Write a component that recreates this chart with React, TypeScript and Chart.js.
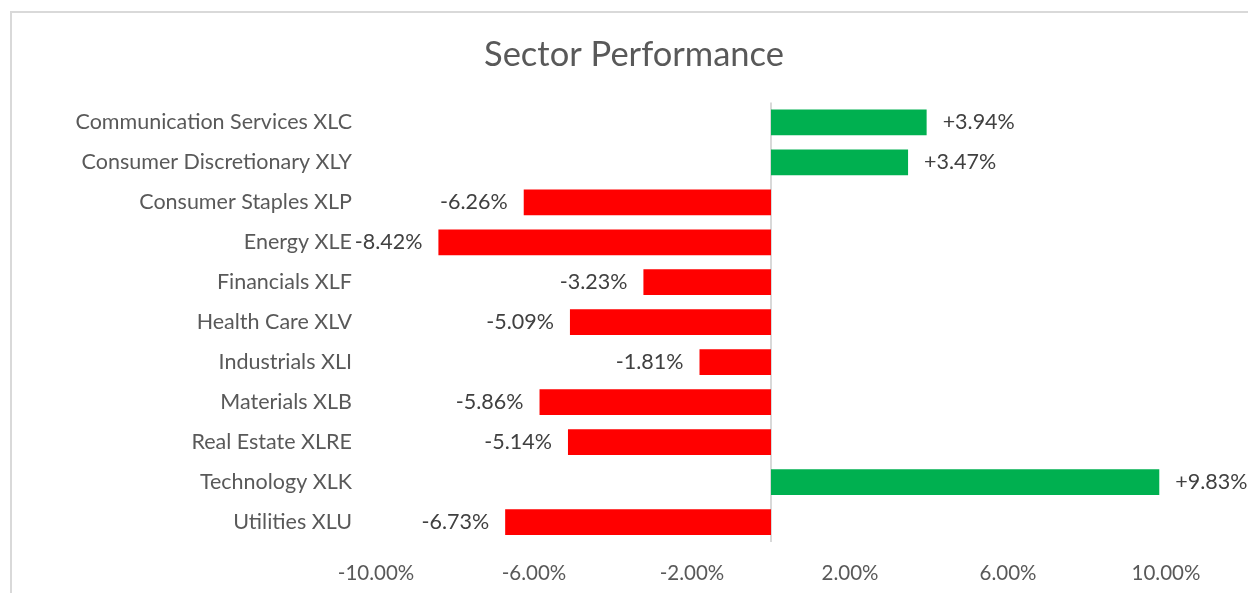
import React, { useEffect, useRef } from "react";
import { Chart, registerables } from "chart.js";

Chart.register(...registerables);

const chartTitle = "Sector Performance";
const categories = [
  "Communication Services XLC",
  "Consumer Discretionary XLY",
  "Consumer Staples XLP",
  "Energy XLE",
  "Financials XLF",
  "Health Care XLV",
  "Industrials XLI",
  "Materials XLB",
  "Real Estate XLRE",
  "Technology XLK",
  "Utilities XLU",
];
const values = [3.94, 3.47, -6.26, -8.42, -3.23, -5.09, -1.81, -5.86, -5.14, 9.83, -6.73];
const axisMin = -10;
const axisMax = 10;
const axisStep = 4;

const positiveColor = "#00B050";
const negativeColor = "#FF0000";
const FONT = "Lato, 'Open Sans', sans-serif";

export default function App() {
  const ref = useRef<HTMLCanvasElement>(null);

  useEffect(() => {
    const canvas = ref.current;
    if (!canvas) return;

    const zeroLine = {
      id: "zeroLine",
      beforeDatasetsDraw(chart: any) {
        const { ctx, chartArea, scales } = chart;
        const x = Math.round(scales.x.getPixelForValue(0));
        ctx.save();
        ctx.strokeStyle = "#d9d9d9";
        ctx.lineWidth = 2;
        ctx.beginPath();
        ctx.moveTo(x, chartArea.top);
        ctx.lineTo(x, chartArea.bottom);
        ctx.stroke();
        ctx.restore();
      },
    };

    const valueLabels = {
      id: "valueLabels",
      afterDatasetsDraw(chart: any) {
        const { ctx } = chart;
        const meta = chart.getDatasetMeta(0);
        ctx.save();
        ctx.font = `21.5px ${FONT}`;
        ctx.fillStyle = "#404040";
        ctx.textBaseline = "middle";
        meta.data.forEach((el: any, i: number) => {
          const v = values[i];
          const txt = (v > 0 ? "+" : "") + v.toFixed(2) + "%";
          if (v >= 0) {
            ctx.textAlign = "left";
            ctx.fillText(txt, el.x + 16, el.y);
          } else {
            ctx.textAlign = "right";
            ctx.fillText(txt, el.x - 16, el.y);
          }
        });
        ctx.restore();
      },
    };

    const chart = new Chart(canvas, {
      type: "bar",
      data: {
        labels: categories,
        datasets: [
          {
            data: values,
            backgroundColor: values.map((v) => (v >= 0 ? positiveColor : negativeColor)),
            borderWidth: 0,
            categoryPercentage: 1,
            barPercentage: 0.645,
          },
        ],
      },
      options: {
        indexAxis: "y",
        responsive: false,
        animation: false,
        layout: { padding: { left: 20, right: 0, top: 0, bottom: 0 } },
        plugins: {
          legend: { display: false },
          tooltip: { enabled: false },
          title: {
            display: true,
            text: chartTitle,
            color: "#595959",
            font: { family: FONT, size: 34.5, weight: "normal" },
            padding: { top: 34, bottom: 27 },
          },
        },
        scales: {
          x: {
            min: axisMin,
            max: axisMax,
            grid: { display: false, drawTicks: false },
            border: { display: false },
            ticks: {
              stepSize: axisStep,
              color: "#595959",
              font: { family: FONT, size: 20.5 },
              padding: 19,
              maxRotation: 0,
              callback: (v: any) => Number(v).toFixed(2) + "%",
            },
            afterFit(scale: any) {
              scale.height = 51;
            },
          },
          y: {
            grid: { display: false, drawTicks: false },
            border: { display: false },
            ticks: {
              color: "#595959",
              font: { family: FONT, size: 21.5 },
              padding: 24,
              autoSkip: false,
            },
            afterFit(scale: any) {
              scale.width = 356;
            },
          },
          yRight: {
            type: "category",
            position: "right",
            grid: { display: false, drawTicks: false },
            border: { display: false },
            ticks: { display: false },
            afterFit(scale: any) {
              scale.width = 82;
            },
          },
        },
      },
      plugins: [zeroLine, valueLabels],
    } as any);

    return () => chart.destroy();
  }, []);

  return (
    <div
      style={{
        position: "fixed",
        left: 0,
        top: 0,
        width: 1248,
        height: 593,
        overflow: "hidden",
        background: "#ffffff",
      }}
    >
      <div
        style={{
          position: "absolute",
          left: 10,
          top: 11,
          width: 1300,
          height: 700,
          border: "2px solid #d9d9d9",
          boxSizing: "border-box",
        }}
      />
      <canvas
        ref={ref}
        width={1248}
        height={593}
        style={{ position: "absolute", left: 0, top: 0, width: 1248, height: 593 }}
      />
    </div>
  );
}
